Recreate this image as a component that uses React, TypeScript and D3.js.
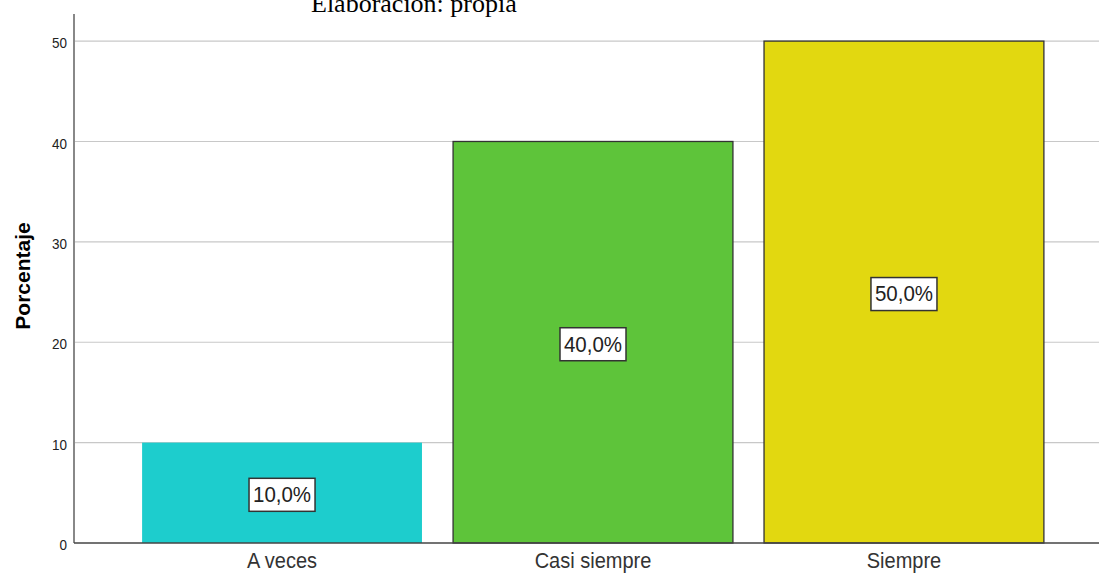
import React from "react";
import * as d3 from "d3";

// Response categories and their percentages
const categories: string[] = ["A veces", "Casi siempre", "Siempre"];
const percentages: number[] = [10, 40, 50];
const barColors: string[] = ["#1dcdcd", "#5ec43a", "#e2d810"];
const barOutlined: boolean[] = [false, true, true];
const yTicks: number[] = [0, 10, 20, 30, 40, 50];
const yTitle = "Porcentaje";
const sourceNote = "Elaboración: propia";

const W = 1099;
const H = 573;
const m = { left: 74, right: 0, top: 14, bottom: 30 };
const yMax = 52.7;
// text in this chart is drawn slightly taller than wide
const stretch = 1.1;

const fmt = (v: number) => v.toFixed(1).replace(".", ",") + "%";

export default function App() {
  const y = d3.scaleLinear().domain([0, yMax]).range([H - m.bottom, m.top]);
  const x = d3
    .scaleBand<string>()
    .domain(categories)
    .range([m.left, 1112])
    .paddingInner(0.1)
    .paddingOuter(0.219);

  const font = "Arial, 'Liberation Sans', sans-serif";
  const labelW = 66;
  const labelH = 33;

  return (
    <svg
      width={W}
      height={H}
      style={{ position: "absolute", left: 0, top: 0, background: "#fff" }}
    >
      {/* source note, partly cut by the top edge */}
      <text
        x={311}
        y={12}
        fontFamily="'Times New Roman', 'Liberation Serif', serif"
        fontSize={26}
        fill="#000"
      >
        {sourceNote}
      </text>

      {/* horizontal gridlines */}
      {yTicks
        .filter((t) => t > 0)
        .map((t) => (
          <line
            key={"g" + t}
            x1={m.left}
            x2={W}
            y1={y(t)}
            y2={y(t)}
            stroke="#c8c8c8"
            strokeWidth={1.2}
          />
        ))}

      {/* bars */}
      {categories.map((c, i) => (
        <rect
          key={c}
          x={x(c)!}
          y={y(percentages[i])}
          width={x.bandwidth()}
          height={y(0) - y(percentages[i])}
          fill={barColors[i]}
          stroke={barOutlined[i] ? "#333" : "none"}
          strokeWidth={1.3}
        />
      ))}

      {/* y axis */}
      <line
        x1={m.left}
        x2={m.left}
        y1={y(yMax)}
        y2={y(0)}
        stroke="#888"
        strokeWidth={2}
      />
      {/* x axis */}
      <line
        x1={m.left}
        x2={W}
        y1={y(0)}
        y2={y(0)}
        stroke="#444"
        strokeWidth={1.5}
      />

      {/* y tick labels */}
      {yTicks.map((t) => (
        <text
          key={"t" + t}
          transform={`translate(${m.left - 7}, ${y(t) + 2}) scale(1, ${stretch})`}
          textAnchor="end"
          dominantBaseline="central"
          fontFamily={font}
          fontSize={13.5}
          fill="#222"
        >
          {t}
        </text>
      ))}

      {/* y title */}
      <text
        transform={`translate(30, ${y(26.6)}) rotate(-90) scale(1.05, 1)`}
        textAnchor="middle"
        fontFamily={font}
        fontWeight="bold"
        fontSize={20}
        fill="#000"
      >
        {yTitle}
      </text>

      {/* category labels */}
      {categories.map((c) => (
        <text
          key={"x" + c}
          transform={`translate(${x(c)! + x.bandwidth() / 2}, 568) scale(1, ${stretch})`}
          textAnchor="middle"
          fontFamily={font}
          fontSize={20}
          fill="#333"
        >
          {c}
        </text>
      ))}

      {/* value labels in the middle of each bar */}
      {categories.map((c, i) => {
        const cx = x(c)! + x.bandwidth() / 2;
        const cy = y(percentages[i] / 2) + 2;
        return (
          <g key={"v" + c}>
            <rect
              x={cx - labelW / 2}
              y={cy - labelH / 2}
              width={labelW}
              height={labelH}
              fill="#fff"
              stroke="#333"
              strokeWidth={1.5}
            />
            <text
              transform={`translate(${cx}, ${cy}) scale(1, ${stretch})`}
              textAnchor="middle"
              dominantBaseline="central"
              fontFamily={font}
              fontSize={20.5}
              fill="#222"
            >
              {fmt(percentages[i])}
            </text>
          </g>
        );
      })}
    </svg>
  );
}
